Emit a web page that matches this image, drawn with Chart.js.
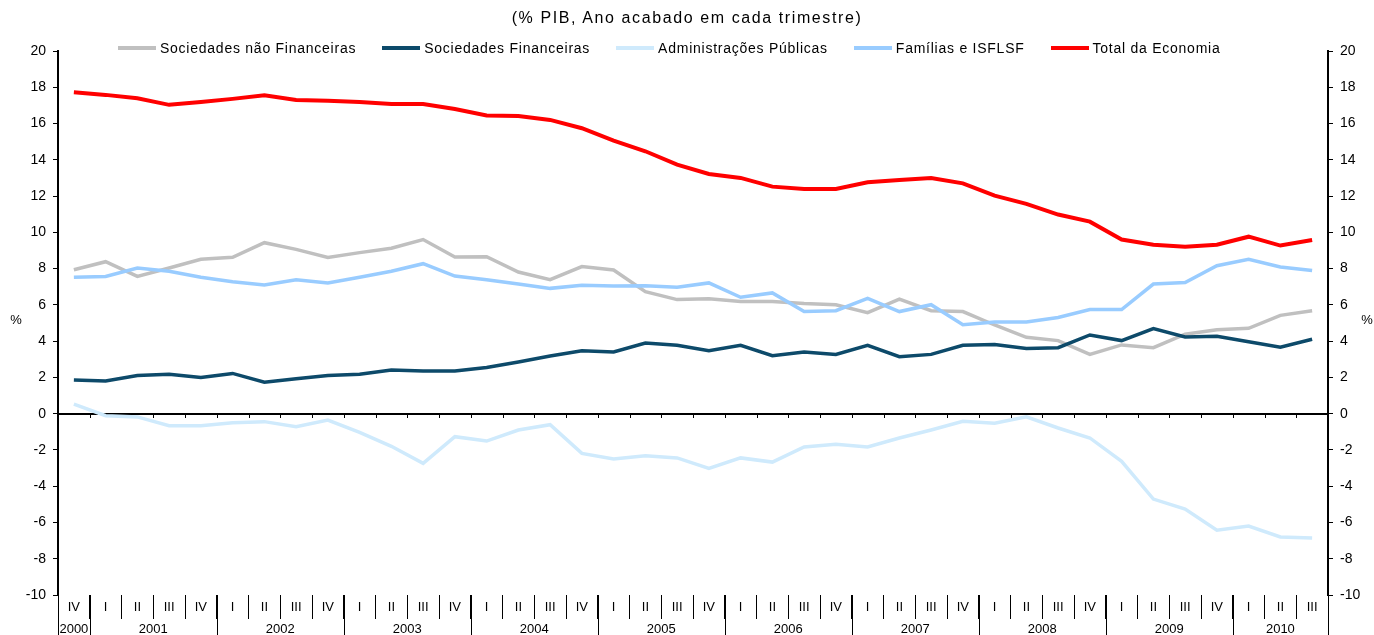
<!DOCTYPE html>
<html lang="pt">
<head>
<meta charset="utf-8">
<title>% PIB, Ano acabado em cada trimestre</title>
<script src="https://cdn.jsdelivr.net/npm/chart.js@4.4.1/dist/chart.umd.min.js"></script>
<style>
  html, body { margin: 0; padding: 0; background: #fff; }
  body { width: 1374px; height: 635px; overflow: hidden; position: relative;
         font-family: "Liberation Sans", Arial, sans-serif; color: #000; }
  #chart-wrap { position: absolute; left: 0; top: 0; width: 1374px; height: 635px; }
  .chart-title { position: absolute; top: 9px; left: 0; width: 1374px; text-align: center;
                 font-size: 16px; letter-spacing: 1.6px; }
  #legend { position: absolute; top: 40px; left: 118px; display: flex; align-items: center;
            font-size: 14px; letter-spacing: 0.75px; white-space: nowrap; }
  .legend-item { display: flex; align-items: center; margin-right: 26px; }
  .legend-line { width: 38px; height: 4px; margin-right: 4px; }
</style>
</head>
<body>
<div id="chart-wrap"><canvas id="chart" width="1374" height="635"></canvas></div>
<div class="chart-title">(% PIB, Ano acabado em cada trimestre)</div>
<div id="legend"></div>

<script>
// --- Data ---
const quarters = [
  'IV',
  'I', 'II', 'III', 'IV',
  'I', 'II', 'III', 'IV',
  'I', 'II', 'III', 'IV',
  'I', 'II', 'III', 'IV',
  'I', 'II', 'III', 'IV',
  'I', 'II', 'III', 'IV',
  'I', 'II', 'III', 'IV',
  'I', 'II', 'III', 'IV',
  'I', 'II', 'III', 'IV',
  'I', 'II', 'III',
];
const years = ['2000', '2001', '2002', '2003', '2004', '2005', '2006', '2007', '2008', '2009', '2010'];

const naoFinanceiras = [7.94, 8.38, 7.57, 8.03, 8.51, 8.62, 9.43, 9.06, 8.62, 8.88, 9.12, 9.6, 8.64, 8.66, 7.81, 7.39, 8.11, 7.92, 6.73, 6.29, 6.34, 6.19, 6.18, 6.07, 6.01, 5.57, 6.32, 5.68, 5.63, 4.89, 4.21, 4.03, 3.27, 3.79, 3.64, 4.38, 4.63, 4.71, 5.42, 5.68];
const financeiras = [1.86, 1.8, 2.11, 2.17, 1.99, 2.22, 1.73, 1.93, 2.11, 2.17, 2.41, 2.35, 2.35, 2.55, 2.85, 3.18, 3.47, 3.4, 3.9, 3.77, 3.47, 3.77, 3.2, 3.4, 3.27, 3.77, 3.14, 3.27, 3.77, 3.82, 3.59, 3.64, 4.34, 4.03, 4.69, 4.23, 4.27, 3.97, 3.66, 4.1];
const adminPublicas = [0.53, -0.11, -0.18, -0.66, -0.66, -0.5, -0.44, -0.72, -0.35, -1.03, -1.8, -2.74, -1.27, -1.51, -0.9, -0.61, -2.19, -2.5, -2.32, -2.44, -3.02, -2.44, -2.67, -1.84, -1.69, -1.84, -1.34, -0.9, -0.42, -0.53, -0.17, -0.79, -1.34, -2.63, -4.71, -5.26, -6.43, -6.2, -6.8, -6.86];
const familias = [7.52, 7.57, 8.03, 7.85, 7.52, 7.28, 7.1, 7.39, 7.21, 7.52, 7.85, 8.27, 7.59, 7.39, 7.15, 6.91, 7.08, 7.04, 7.06, 6.97, 7.21, 6.42, 6.66, 5.63, 5.68, 6.36, 5.63, 6.01, 4.91, 5.06, 5.06, 5.3, 5.74, 5.74, 7.15, 7.23, 8.16, 8.51, 8.09, 7.89];
const totalEconomia = [17.72, 17.58, 17.39, 17.03, 17.19, 17.36, 17.56, 17.3, 17.26, 17.19, 17.08, 17.08, 16.8, 16.44, 16.42, 16.2, 15.74, 15.06, 14.47, 13.73, 13.22, 13.0, 12.52, 12.39, 12.39, 12.76, 12.89, 13.0, 12.7, 12.02, 11.57, 10.98, 10.59, 9.6, 9.32, 9.21, 9.32, 9.76, 9.27, 9.58];

const seriesNames = ['Sociedades não Financeiras', 'Sociedades Financeiras', 'Administrações Públicas', 'Famílias e ISFLSF', 'Total da Economia'];
const seriesColors = ['#c0c0c0', '#0d4a6a', '#cfeafc', '#99ccff', '#ff0000'];
const seriesData = [naoFinanceiras, financeiras, adminPublicas, familias, totalEconomia];

const yMin = -10;
const yMax = 20;
const yStep = 2;

Chart.defaults.font.family = '"Liberation Sans", Arial, sans-serif';
Chart.defaults.color = '#000';

// --- Extra drawing: zero line, year bands, "%" labels ---
const decorPlugin = {
  id: 'decor',
  beforeDatasetsDraw(chart) {
    const { ctx, chartArea, scales: { x, y } } = chart;
    const y0 = Math.round(y.getPixelForValue(0));
    const half = (x.getPixelForValue(1) - x.getPixelForValue(0)) / 2;
    ctx.save();
    ctx.strokeStyle = '#000';
    ctx.lineWidth = 1;
    for (let i = 0; i <= quarters.length; i++) {
      const px = Math.round(x.getPixelForValue(i) - half) + 0.5;
      ctx.beginPath();
      ctx.moveTo(px, y0);
      ctx.lineTo(px, y0 + 4);
      ctx.stroke();
    }
    ctx.lineWidth = 2;
    ctx.beginPath();
    ctx.moveTo(chartArea.left, y0);
    ctx.lineTo(chartArea.right, y0);
    ctx.stroke();
    ctx.restore();
  },
  afterDraw(chart) {
    const { ctx, chartArea, scales: { x } } = chart;
    const half = (x.getPixelForValue(1) - x.getPixelForValue(0)) / 2;
    const starts = [0];
    quarters.forEach((q, i) => { if (q === 'I' && i > 0) starts.push(i); });
    ctx.save();
    ctx.strokeStyle = '#000';
    ctx.lineWidth = 1;
    const edges = starts.map(i => x.getPixelForValue(i) - half).concat([chartArea.right]);
    edges.forEach(px => {
      const p = Math.round(px) + 0.5;
      ctx.beginPath();
      ctx.moveTo(p, chartArea.bottom);
      ctx.lineTo(p, chart.height);
      ctx.stroke();
    });
    ctx.fillStyle = '#000';
    ctx.font = '13px "Liberation Sans", Arial, sans-serif';
    ctx.textAlign = 'center';
    ctx.textBaseline = 'middle';
    years.forEach((yr, k) => {
      const a = starts[k];
      const b = (k + 1 < starts.length ? starts[k + 1] : quarters.length) - 1;
      const cx = (x.getPixelForValue(a) + x.getPixelForValue(b)) / 2;
      ctx.fillText(yr, cx, chart.height - 6);
    });
    const py = chartArea.top + (chartArea.bottom - chartArea.top) * 0.495;
    ctx.fillText('%', 16, py);
    ctx.fillText('%', chart.width - 7, py);
    ctx.restore();
  }
};

const datasets = seriesNames.map((name, i) => ({
  label: name,
  data: seriesData[i],
  borderColor: seriesColors[i],
  backgroundColor: seriesColors[i],
  borderWidth: i === 4 ? 4 : 3.5,
  pointRadius: 0,
  pointHoverRadius: 0,
  tension: 0,
  order: seriesNames.length - i,
}));

const yAxis = (position, width) => ({
  position,
  min: yMin,
  max: yMax,
  afterFit: (scale) => { scale.width = width; },
  ticks: { stepSize: yStep, padding: 7, font: { size: 14 }, color: '#000' },
  grid: { drawOnChartArea: false, drawTicks: true, tickLength: 5, color: '#000', lineWidth: 1 },
  border: { display: true, color: '#000', width: 2 },
});

const chart = new Chart(document.getElementById('chart'), {
  type: 'line',
  data: { labels: quarters, datasets },
  options: {
    responsive: false,
    animation: false,
    layout: { padding: { top: 51, left: 0, right: 0, bottom: 0 } },
    plugins: { legend: { display: false }, title: { display: false }, tooltip: { enabled: false } },
    scales: {
      x: {
        offset: true,
        afterFit: (scale) => { scale.height = 40; },
        ticks: { autoSkip: false, maxRotation: 0, minRotation: 0, padding: -19, font: { size: 13 }, color: '#000' },
        grid: { offset: true, drawOnChartArea: false, drawTicks: true, tickLength: 24, color: '#000', lineWidth: 1 },
        border: { display: false },
      },
      y: yAxis('left', 58),
      y2: yAxis('right', 46),
    },
  },
  plugins: [decorPlugin],
});

// --- HTML legend ---
const legendEl = document.getElementById('legend');
legendEl.innerHTML = chart.data.datasets.map(ds => `
  <div class="legend-item">
    <span class="legend-line" style="background:${ds.borderColor};"></span>
    <span>${ds.label}</span>
  </div>`).join('');
</script>
</body>
</html>
